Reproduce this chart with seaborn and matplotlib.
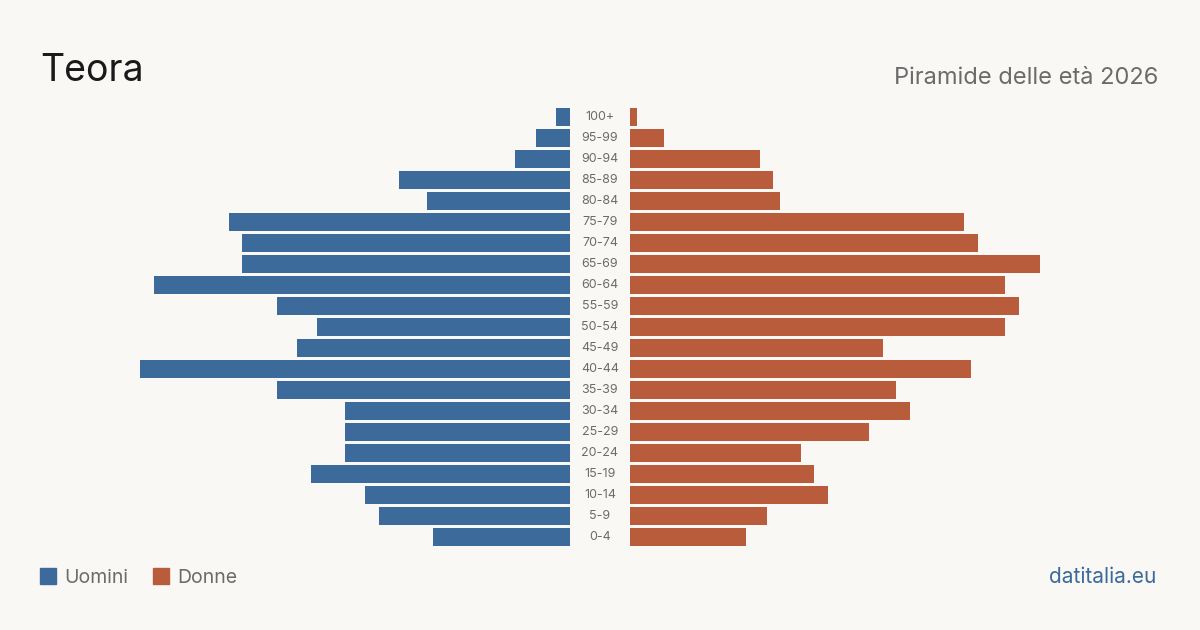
import matplotlib.pyplot as plt
import numpy as np
import pandas as pd
import seaborn as sns

# age classes, top of the pyramid first
ages = ['100+', '95-99', '90-94', '85-89', '80-84', '75-79', '70-74',
        '65-69', '60-64', '55-59', '50-54', '45-49', '40-44', '35-39',
        '30-34', '25-29', '20-24', '15-19', '10-14', '5-9', '0-4']
men = [2, 5, 8, 25, 21, 50, 48, 48, 61, 43, 37, 40, 63, 43, 33, 33, 33, 38, 30, 28, 20]
women = [1, 5, 19, 21, 22, 49, 51, 60, 55, 57, 55, 37, 50, 39, 41, 35, 25, 27, 29, 20, 17]

title = 'Teora'
subtitle = 'Piramide delle età 2026'
source = 'datitalia.eu'

BG = '#f9f8f4'
BLUE = '#3b6a9b'
ORANGE = '#b85c3c'

sns.set_style('white')
plt.rcParams['font.family'] = ['Inter', 'DejaVu Sans']

df = pd.DataFrame({'age': ages, 'Uomini': men, 'Donne': women})
vmax = max(max(men), max(women))

W, H = 1200, 630
fig = plt.figure(figsize=(12, 6.3), dpi=100, facecolor=BG)

# axes geometry in pixels
top_px, bot_px = 106.5, 547.5
ax_b = 1 - bot_px / H
ax_h = (bot_px - top_px) / H
axL = fig.add_axes([140 / W, ax_b, 430 / W, ax_h])
axR = fig.add_axes([630 / W, ax_b, 430 / W, ax_h])

sns.barplot(data=df, x='Uomini', y='age', order=ages, orient='h', ax=axL,
            color=BLUE, width=0.81, saturation=1, linewidth=0)
sns.barplot(data=df, x='Donne', y='age', order=ages, orient='h', ax=axR,
            color=ORANGE, width=0.81, saturation=1, linewidth=0)

axL.set_xlim(vmax, 0)
axR.set_xlim(0, vmax)
for ax in (axL, axR):
    ax.set_facecolor(BG)
    ax.set_xlabel('')
    ax.set_ylabel('')
    ax.set_xticks([])
    ax.set_yticks([])
    for s in ax.spines.values():
        s.set_visible(False)
    ax.set_ylim(len(ages) - 0.5, -0.5)

# age labels in the gap between the two halves
for i, a in enumerate(ages):
    y = 1 - (top_px + (i + 0.5) * (bot_px - top_px) / len(ages)) / H
    fig.text(600 / W, y, a, ha='center', va='center', fontsize=9, color='#6b6b6b')

fig.text(40 / W, 1 - 81 / H, title, fontsize=27, color='#1a1a1a', ha='left', va='baseline')
fig.text(1158 / W, 1 - 84 / H, subtitle, fontsize=17, color='#6b6b6b', ha='right', va='baseline')

# legend
for x0, lab, col in [(40, 'Uomini', BLUE), (153, 'Donne', ORANGE)]:
    fig.patches.append(plt.Rectangle((x0 / W, 1 - 584 / H), 16 / W, 16 / H,
                                     transform=fig.transFigure, color=col))
    fig.text((x0 + 24) / W, 1 - 583 / H, lab, fontsize=14, color='#6b6b6b',
             ha='left', va='baseline')

fig.text(1156 / W, 1 - 583 / H, source, fontsize=15, color=BLUE, ha='right', va='baseline')

fig.savefig('out.png', dpi=100, facecolor=BG)
